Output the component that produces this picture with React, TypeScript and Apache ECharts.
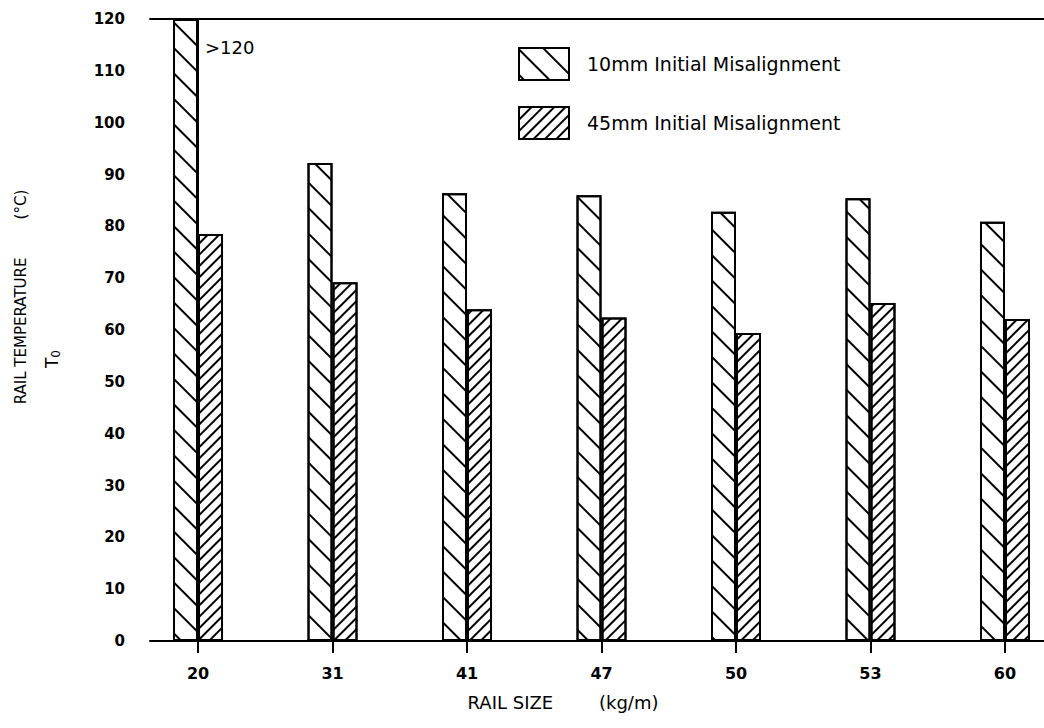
import React, { useEffect, useRef } from "react";
import * as echarts from "echarts";

const categories = ["20", "31", "41", "47", "50", "53", "60"];
const misalign10mm = [120, 92.2, 86.4, 86.0, 82.8, 85.4, 80.9];
const misalign45mm = [78.5, 69.2, 64.0, 62.4, 59.4, 65.2, 62.1];
const seriesNames = ["10mm Initial Misalignment", "45mm Initial Misalignment"];
const yTicks = { min: 0, max: 120, interval: 10 };
const positions = categories.map((_, i) => i);

const FONT = "'DejaVu Sans', 'Liberation Sans', sans-serif";

export default function App() {
  const ref = useRef<HTMLDivElement>(null);
  useEffect(() => {
    if (!ref.current) return;
    const chart = echarts.init(ref.current, null, { renderer: "svg" });
    const axisLine = { show: true, lineStyle: { color: "#000", width: 2 } };
    chart.setOption({
      animation: false,
      backgroundColor: "#fff",
      textStyle: { fontFamily: FONT, color: "#000" },
      grid: { left: 150, top: 19, right: 0, bottom: 87, containLabel: false },
      legend: {
        orient: "vertical",
        left: 518,
        top: 47,
        padding: 0,
        itemWidth: 50,
        itemHeight: 32,
        itemGap: 25,
        icon: "rect",
        textStyle: { fontSize: 19, color: "#000", fontFamily: FONT, padding: [0, 0, 0, 13] },
        itemStyle: { borderColor: "#000", borderWidth: 2 },
        data: seriesNames,
      },
      xAxis: [
        {
          type: "value",
          min: -0.357,
          max: 6.29,
          axisLine,
          splitLine: { show: false },
          axisTick: { show: true, customValues: positions, length: 12, lineStyle: { color: "#000", width: 2 } },
          axisLabel: {
            customValues: positions,
            formatter: (v: number) => categories[Math.round(v)] ?? "",
            color: "#000",
            fontSize: 16,
            fontWeight: "bold",
            margin: 24,
            fontFamily: FONT,
          },
          name: "RAIL SIZE        (kg/m)",
          nameLocation: "middle",
          nameGap: 52,
          nameTextStyle: { fontSize: 18, color: "#000", fontFamily: FONT, padding: [0, 68, 0, 0] },
        },
        {
          type: "value",
          position: "top",
          min: -0.357,
          max: 6.29,
          axisLine,
          axisTick: { show: false },
          axisLabel: { show: false },
          splitLine: { show: false },
        },
      ],
      yAxis: {
        type: "value",
        min: yTicks.min,
        max: yTicks.max,
        interval: yTicks.interval,
        axisLine,
        splitLine: { show: false },
        axisTick: { show: true, length: 14, lineStyle: { color: "#000", width: 2 } },
        axisLabel: { color: "#000", fontSize: 15, fontWeight: "bold", margin: 25, fontFamily: FONT },
      },
      graphic: [
        {
          type: "text",
          x: 21,
          y: 297,
          rotation: Math.PI / 2,
          style: {
            text: "RAIL TEMPERATURE        (°C)",
            fontSize: 15,
            fontFamily: FONT,
            fill: "#000",
            align: "center",
            verticalAlign: "middle",
          },
        },
        {
          type: "text",
          x: 52,
          y: 359,
          rotation: Math.PI / 2,
          style: {
            text: "{t|T}{s|0}",
            align: "center",
            verticalAlign: "middle",
            rich: {
              t: { fontSize: 17, fontFamily: FONT, fill: "#000" },
              s: { fontSize: 12, fontFamily: FONT, fill: "#000", padding: [8, 0, 0, 0] },
            },
          },
        },
      ],
      series: [
        {
          name: seriesNames[0],
          type: "bar",
          barWidth: 25,
          barGap: "0%",
          itemStyle: {
            color: "#fff",
            borderColor: "#000",
            borderWidth: 2,
            decal: {
              symbol: "rect",
              symbolSize: 1,
              color: "#000",
              dashArrayX: [1, 0],
              dashArrayY: [2, 16],
              rotation: Math.PI / 4,
            },
          },
          data: misalign10mm.map((v, i) =>
            i === 0
              ? {
                  value: [positions[i], v],
                  label: {
                    show: true,
                    formatter: ">120",
                    position: [32, 28],
                    align: "left",
                    verticalAlign: "middle",
                    fontSize: 18,
                    color: "#000",
                    fontFamily: FONT,
                  },
                }
              : [positions[i], v]
          ),
        },
        {
          name: seriesNames[1],
          type: "bar",
          barWidth: 25,
          barGap: "0%",
          itemStyle: {
            color: "#fff",
            borderColor: "#000",
            borderWidth: 2,
            decal: {
              symbol: "rect",
              symbolSize: 1,
              color: "#000",
              dashArrayX: [1, 0],
              dashArrayY: [2, 6],
              rotation: -Math.PI / 4,
            },
          },
          data: misalign45mm.map((v, i) => [positions[i], v]),
        },
      ],
    });
    return () => chart.dispose();
  }, []);
  return (
    <div
      ref={ref}
      style={{ position: "absolute", left: 0, top: 0, width: 1044, height: 728 }}
    />
  );
}
